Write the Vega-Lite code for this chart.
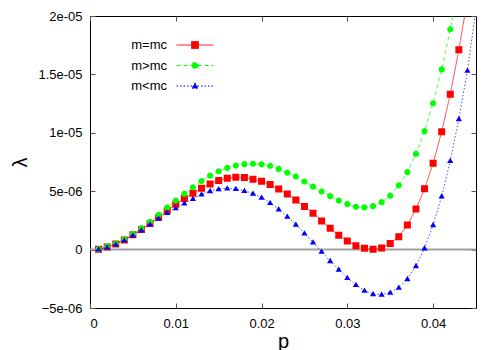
{
  "$schema": "https://vega.github.io/schema/vega-lite/v6.json",
  "width": 386,
  "height": 292,
  "autosize": {"type": "none"},
  "padding": {"left": 90, "top": 16, "right": 24, "bottom": 42},
  "background": "white",
  "config": {
    "view": {"stroke": "black", "strokeWidth": 1},
    "font": "Liberation Sans",
    "axis": {
      "domain": false,
      "grid": false,
      "tickColor": "#555555",
      "tickSize": -5,
      "labelFontSize": 13,
      "labelColor": "black",
      "labelFont": "Liberation Sans",
      "titleFont": "Liberation Sans",
      "titleFontSize": 20,
      "titleFontWeight": "normal",
      "titleColor": "black"
    }
  },
  "datasets": {
    "d": [
      {"p": 0.001, "s": "m=mc", "v": 0.03e-6}, {"p": 0.002, "s": "m=mc", "v": 0.22e-6}, {"p": 0.003, "s": "m=mc", "v": 0.48e-6},
      {"p": 0.004, "s": "m=mc", "v": 0.83e-6}, {"p": 0.005, "s": "m=mc", "v": 1.27e-6}, {"p": 0.006, "s": "m=mc", "v": 1.72e-6},
      {"p": 0.007, "s": "m=mc", "v": 2.24e-6}, {"p": 0.008, "s": "m=mc", "v": 2.78e-6}, {"p": 0.009, "s": "m=mc", "v": 3.32e-6},
      {"p": 0.010, "s": "m=mc", "v": 3.88e-6}, {"p": 0.011, "s": "m=mc", "v": 4.38e-6}, {"p": 0.012, "s": "m=mc", "v": 4.82e-6},
      {"p": 0.013, "s": "m=mc", "v": 5.26e-6}, {"p": 0.014, "s": "m=mc", "v": 5.62e-6}, {"p": 0.015, "s": "m=mc", "v": 5.92e-6},
      {"p": 0.016, "s": "m=mc", "v": 6.11e-6}, {"p": 0.017, "s": "m=mc", "v": 6.19e-6}, {"p": 0.018, "s": "m=mc", "v": 6.17e-6},
      {"p": 0.019, "s": "m=mc", "v": 6.03e-6}, {"p": 0.020, "s": "m=mc", "v": 5.85e-6}, {"p": 0.021, "s": "m=mc", "v": 5.57e-6},
      {"p": 0.022, "s": "m=mc", "v": 5.19e-6}, {"p": 0.023, "s": "m=mc", "v": 4.77e-6}, {"p": 0.024, "s": "m=mc", "v": 4.25e-6},
      {"p": 0.025, "s": "m=mc", "v": 3.68e-6}, {"p": 0.026, "s": "m=mc", "v": 3.11e-6}, {"p": 0.027, "s": "m=mc", "v": 2.45e-6},
      {"p": 0.028, "s": "m=mc", "v": 1.83e-6}, {"p": 0.029, "s": "m=mc", "v": 1.22e-6}, {"p": 0.030, "s": "m=mc", "v": 0.74e-6},
      {"p": 0.031, "s": "m=mc", "v": 0.34e-6}, {"p": 0.032, "s": "m=mc", "v": 0.11e-6}, {"p": 0.033, "s": "m=mc", "v": 0.02e-6},
      {"p": 0.034, "s": "m=mc", "v": 0.14e-6}, {"p": 0.035, "s": "m=mc", "v": 0.52e-6}, {"p": 0.036, "s": "m=mc", "v": 1.11e-6},
      {"p": 0.037, "s": "m=mc", "v": 2.11e-6}, {"p": 0.038, "s": "m=mc", "v": 3.47e-6}, {"p": 0.039, "s": "m=mc", "v": 5.2e-6},
      {"p": 0.040, "s": "m=mc", "v": 7.4e-6}, {"p": 0.041, "s": "m=mc", "v": 10.1e-6}, {"p": 0.042, "s": "m=mc", "v": 13.3e-6},
      {"p": 0.043, "s": "m=mc", "v": 17.1e-6}, {"p": 0.044, "s": "m=mc", "v": 21.4e-6},

      {"p": 0.001, "s": "m>mc", "v": 0.04e-6}, {"p": 0.002, "s": "m>mc", "v": 0.27e-6}, {"p": 0.003, "s": "m>mc", "v": 0.52e-6},
      {"p": 0.004, "s": "m>mc", "v": 0.88e-6}, {"p": 0.005, "s": "m>mc", "v": 1.34e-6}, {"p": 0.006, "s": "m>mc", "v": 1.84e-6},
      {"p": 0.007, "s": "m>mc", "v": 2.38e-6}, {"p": 0.008, "s": "m>mc", "v": 2.98e-6}, {"p": 0.009, "s": "m>mc", "v": 3.6e-6},
      {"p": 0.010, "s": "m>mc", "v": 4.2e-6}, {"p": 0.011, "s": "m>mc", "v": 4.77e-6}, {"p": 0.012, "s": "m>mc", "v": 5.34e-6},
      {"p": 0.013, "s": "m>mc", "v": 5.87e-6}, {"p": 0.014, "s": "m>mc", "v": 6.33e-6}, {"p": 0.015, "s": "m>mc", "v": 6.71e-6},
      {"p": 0.016, "s": "m>mc", "v": 6.99e-6}, {"p": 0.017, "s": "m>mc", "v": 7.19e-6}, {"p": 0.018, "s": "m>mc", "v": 7.31e-6},
      {"p": 0.019, "s": "m>mc", "v": 7.35e-6}, {"p": 0.020, "s": "m>mc", "v": 7.3e-6}, {"p": 0.021, "s": "m>mc", "v": 7.17e-6},
      {"p": 0.022, "s": "m>mc", "v": 6.91e-6}, {"p": 0.023, "s": "m>mc", "v": 6.59e-6}, {"p": 0.024, "s": "m>mc", "v": 6.25e-6},
      {"p": 0.025, "s": "m>mc", "v": 5.82e-6}, {"p": 0.026, "s": "m>mc", "v": 5.39e-6}, {"p": 0.027, "s": "m>mc", "v": 4.97e-6},
      {"p": 0.028, "s": "m>mc", "v": 4.57e-6}, {"p": 0.029, "s": "m>mc", "v": 4.2e-6}, {"p": 0.030, "s": "m>mc", "v": 3.89e-6},
      {"p": 0.031, "s": "m>mc", "v": 3.66e-6}, {"p": 0.032, "s": "m>mc", "v": 3.61e-6}, {"p": 0.033, "s": "m>mc", "v": 3.72e-6},
      {"p": 0.034, "s": "m>mc", "v": 4.06e-6}, {"p": 0.035, "s": "m>mc", "v": 4.62e-6}, {"p": 0.036, "s": "m>mc", "v": 5.5e-6},
      {"p": 0.037, "s": "m>mc", "v": 6.63e-6}, {"p": 0.038, "s": "m>mc", "v": 8.19e-6}, {"p": 0.039, "s": "m>mc", "v": 10.14e-6},
      {"p": 0.040, "s": "m>mc", "v": 12.53e-6}, {"p": 0.041, "s": "m>mc", "v": 15.43e-6}, {"p": 0.042, "s": "m>mc", "v": 18.86e-6},
      {"p": 0.043, "s": "m>mc", "v": 22.76e-6},

      {"p": 0.001, "s": "m<mc", "v": 0.03e-6}, {"p": 0.002, "s": "m<mc", "v": 0.2e-6}, {"p": 0.003, "s": "m<mc", "v": 0.46e-6},
      {"p": 0.004, "s": "m<mc", "v": 0.8e-6}, {"p": 0.005, "s": "m<mc", "v": 1.22e-6}, {"p": 0.006, "s": "m<mc", "v": 1.66e-6},
      {"p": 0.007, "s": "m<mc", "v": 2.16e-6}, {"p": 0.008, "s": "m<mc", "v": 2.66e-6}, {"p": 0.009, "s": "m<mc", "v": 3.15e-6},
      {"p": 0.010, "s": "m<mc", "v": 3.56e-6}, {"p": 0.011, "s": "m<mc", "v": 3.96e-6}, {"p": 0.012, "s": "m<mc", "v": 4.35e-6},
      {"p": 0.013, "s": "m<mc", "v": 4.73e-6}, {"p": 0.014, "s": "m<mc", "v": 5.02e-6}, {"p": 0.015, "s": "m<mc", "v": 5.19e-6},
      {"p": 0.016, "s": "m<mc", "v": 5.25e-6}, {"p": 0.017, "s": "m<mc", "v": 5.2e-6}, {"p": 0.018, "s": "m<mc", "v": 5.04e-6},
      {"p": 0.019, "s": "m<mc", "v": 4.8e-6}, {"p": 0.020, "s": "m<mc", "v": 4.46e-6}, {"p": 0.021, "s": "m<mc", "v": 4.01e-6},
      {"p": 0.022, "s": "m<mc", "v": 3.46e-6}, {"p": 0.023, "s": "m<mc", "v": 2.83e-6}, {"p": 0.024, "s": "m<mc", "v": 2.14e-6},
      {"p": 0.025, "s": "m<mc", "v": 1.4e-6}, {"p": 0.026, "s": "m<mc", "v": 0.63e-6}, {"p": 0.027, "s": "m<mc", "v": -0.17e-6},
      {"p": 0.028, "s": "m<mc", "v": -0.97e-6}, {"p": 0.029, "s": "m<mc", "v": -1.71e-6}, {"p": 0.030, "s": "m<mc", "v": -2.42e-6},
      {"p": 0.031, "s": "m<mc", "v": -3.02e-6}, {"p": 0.032, "s": "m<mc", "v": -3.51e-6}, {"p": 0.033, "s": "m<mc", "v": -3.8e-6},
      {"p": 0.034, "s": "m<mc", "v": -3.85e-6}, {"p": 0.035, "s": "m<mc", "v": -3.68e-6}, {"p": 0.036, "s": "m<mc", "v": -3.25e-6},
      {"p": 0.037, "s": "m<mc", "v": -2.51e-6}, {"p": 0.038, "s": "m<mc", "v": -1.4e-6}, {"p": 0.039, "s": "m<mc", "v": 0.12e-6},
      {"p": 0.040, "s": "m<mc", "v": 2.11e-6}, {"p": 0.041, "s": "m<mc", "v": 4.57e-6}, {"p": 0.042, "s": "m<mc", "v": 7.6e-6},
      {"p": 0.043, "s": "m<mc", "v": 11.19e-6}, {"p": 0.044, "s": "m<mc", "v": 15.33e-6}, {"p": 0.045, "s": "m<mc", "v": 20.6e-6}
    ]
  },
  "data": {"name": "d"},
  "layer": [
    {
      "data": {"values": [{}]},
      "mark": {"type": "rule", "color": "#a0a0a0", "strokeWidth": 2},
      "encoding": {
        "y": {"datum": 0, "type": "quantitative", "scale": {"domain": [-5e-6, 2e-5], "nice": false, "zero": false}, "axis": null}
      }
    },
    {
      "mark": {"type": "line", "strokeWidth": 1, "clip": true, "strokeOpacity": 0.7},
      "encoding": {
        "x": {"field": "p", "type": "quantitative", "scale": {"domain": [0, 0.045], "nice": false, "zero": false}, "axis": null},
        "y": {"field": "v", "type": "quantitative", "axis": null},
        "color": {
          "field": "s", "type": "nominal",
          "scale": {"domain": ["m=mc", "m>mc", "m<mc"], "range": ["#ff0000", "#00ff00", "#0000ff"]},
          "legend": {
            "title": null, "orient": "none", "legendX": 98.5, "legendY": 22.5, "padding": 0,
            "rowPadding": 6.5, "labelAlign": "right", "labelOffset": -34.5, "labelFontSize": 13, "labelColor": "black", "labelFont": "Liberation Sans",
            "symbolSize": 100, "symbolStrokeWidth": 1
          }
        },
        "strokeDash": {
          "field": "s", "type": "nominal",
          "scale": {"domain": ["m=mc", "m>mc", "m<mc"], "range": [[1, 0], [4, 3], [1.5, 2]]}
        }
      }
    },
    {
      "mark": {"type": "point", "filled": true, "opacity": 1, "clip": true, "size": 100},
      "encoding": {
        "x": {"field": "p", "type": "quantitative",
              "axis": {"orient": "bottom", "values": [0, 0.01, 0.02, 0.03, 0.04], "format": "~g", "title": "p", "labelPadding": 14, "titleY": 39, "titleBaseline": "alphabetic"}},
        "y": {"field": "v", "type": "quantitative",
              "axis": {"orient": "left", "values": [-5e-6, 0, 5e-6, 1e-5, 1.5e-5, 2e-5],
                       "labelExpr": "datum.value == 0 ? '0' : replace(format(datum.value, '~e'), 'e-', 'e-0')",
                       "title": "λ", "labelPadding": 13, "titleX": -70, "titleY": 146, "titleAlign": "center", "titleBaseline": "middle"}},
        "color": {
          "field": "s", "type": "nominal",
          "scale": {"domain": ["m=mc", "m>mc", "m<mc"], "range": ["#ff0000", "#00ff00", "#0000ff"]}
        },
        "shape": {
          "field": "s", "type": "nominal",
          "scale": {"domain": ["m=mc", "m>mc", "m<mc"], "range": [
            "M-3.7,0H3.7M-0.7,-0.7H0.7V0.7H-0.7Z",
            "M-3.7,0H3.7M-0.62,0A0.62,0.62,0,1,0,0.62,0A0.62,0.62,0,1,0,-0.62,0Z",
            "M-3.7,0H3.7M0,-0.62L0.62,0.45L-0.62,0.45Z"
          ]}
        }
      }
    },
    {
      "mark": {"type": "point", "opacity": 0},
      "encoding": {
        "x": {"field": "p", "type": "quantitative",
              "axis": {"orient": "top", "values": [0, 0.01, 0.02, 0.03, 0.04], "labels": false, "title": null}},
        "y": {"field": "v", "type": "quantitative",
              "axis": {"orient": "right", "values": [-5e-6, 0, 5e-6, 1e-5, 1.5e-5, 2e-5], "labels": false, "title": null}}
      }
    }
  ],
  "resolve": {"axis": {"x": "independent", "y": "independent"}}
}
